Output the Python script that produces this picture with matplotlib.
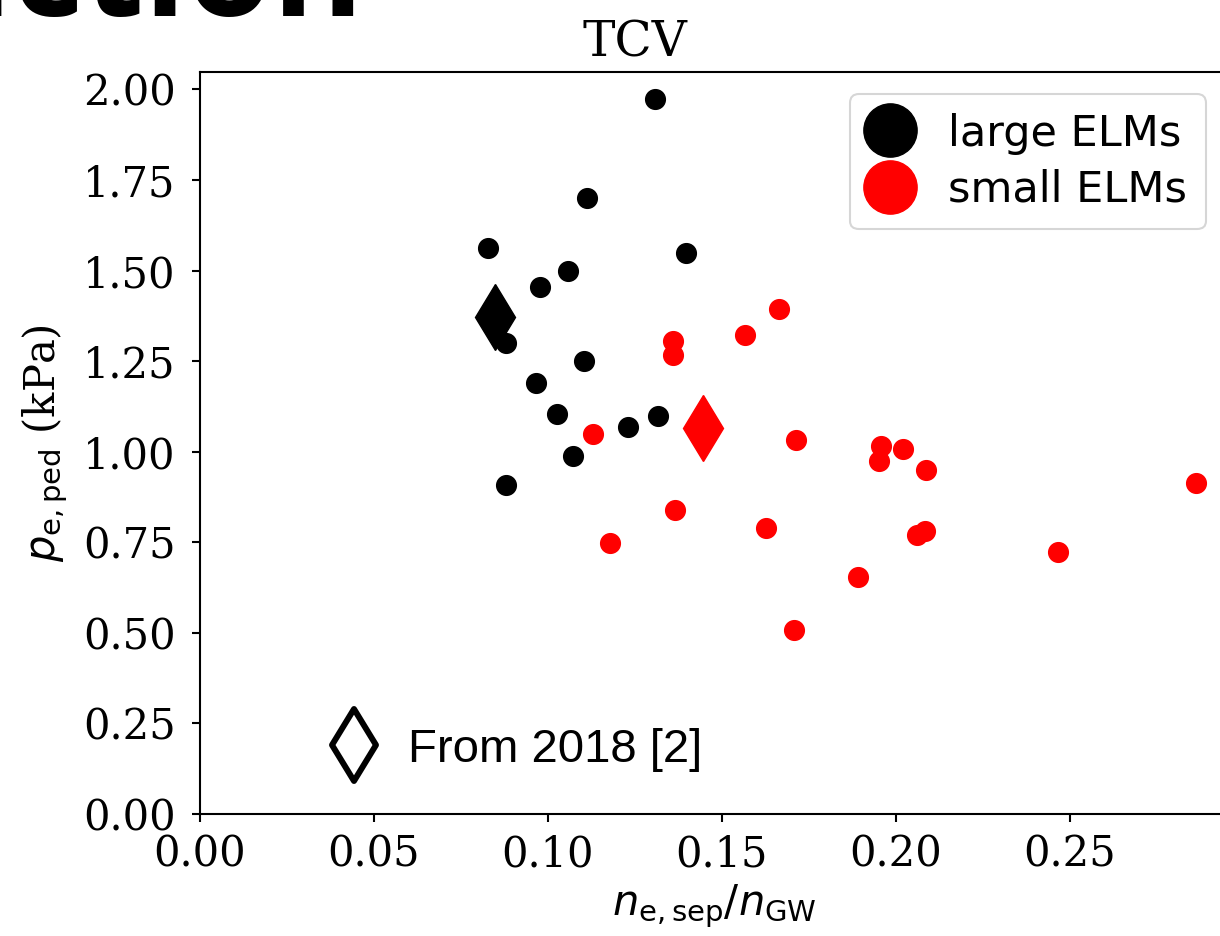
import matplotlib
matplotlib.use("Agg")
import matplotlib.pyplot as plt
from matplotlib.lines import Line2D
from matplotlib.markers import MarkerStyle

# ---- data ----
large_x = [0.1307, 0.1111, 0.0828, 0.1397, 0.1057, 0.0977, 0.0878, 0.1104,
           0.0966, 0.1027, 0.1231, 0.1315, 0.1071, 0.0878]
large_y = [1.973, 1.699, 1.563, 1.548, 1.500, 1.455, 1.299, 1.251,
           1.189, 1.103, 1.069, 1.099, 0.988, 0.908]
small_x = [0.1128, 0.1178, 0.1360, 0.1360, 0.1365, 0.1567, 0.1664, 0.1713,
           0.1626, 0.1707, 0.1891, 0.1958, 0.1952, 0.2019, 0.2087, 0.2061,
           0.2083, 0.2466, 0.2862]
small_y = [1.048, 0.748, 1.306, 1.266, 0.839, 1.321, 1.394, 1.032,
           0.789, 0.508, 0.653, 1.017, 0.975, 1.007, 0.949, 0.770,
           0.781, 0.724, 0.913]
ref2018_x = [0.0848, 0.1446]
ref2018_y = [1.373, 1.065]
ref2018_colors = ["black", "red"]

xticks = [0.00, 0.05, 0.10, 0.15, 0.20, 0.25]
yticks = [0.00, 0.25, 0.50, 0.75, 1.00, 1.25, 1.50, 1.75, 2.00]

plt.rcParams["font.family"] = "DejaVu Serif"
plt.rcParams["mathtext.fontset"] = "dejavusans"

W, H = 1220, 936
fig = plt.figure(figsize=(W / 100, H / 100), dpi=100)

# slide title fragment (cut off at the top and left)
fig.text(364 / W, 1 - 15 / H, "Introduction", fontsize=100, fontweight="bold",
         family="Open Sans", va="baseline", ha="right")

ax_l, ax_r, ax_t, ax_b = 200, 1228, 72, 814
ax = fig.add_axes([ax_l / W, 1 - ax_b / H, (ax_r - ax_l) / W, (ax_b - ax_t) / H])

ax.plot(large_x, large_y, "o", color="black", markersize=14.2, ls="none",
        label="large ELMs", zorder=2)
ax.plot(small_x, small_y, "o", color="red", markersize=14.2, ls="none",
        label="small ELMs", zorder=2)
for x, y, c in zip(ref2018_x, ref2018_y, ref2018_colors):
    ax.plot([x], [y], marker="d", color=c, markersize=34, ls="none", zorder=3)

ax.set_xlim(0, (ax_r - ax_l) / 3480)
ax.set_ylim(0, 2.048)
ax.set_xticks(xticks)
ax.set_yticks(yticks)
ax.set_xticklabels([f"{v:.2f}" for v in xticks])
ax.set_yticklabels([f"{v:.2f}" for v in yticks])
ax.tick_params(labelsize=30, length=6, width=1.5)
ax.tick_params(axis="x", pad=8)
ax.tick_params(axis="y", pad=11.5)
for s in ax.spines.values():
    s.set_linewidth(1.5)

ax.set_xlabel(r"$n_\mathrm{e,sep}/n_\mathrm{GW}$", fontsize=30)
ax.set_ylabel(r"$p_\mathrm{e,ped}$ (kPa)", fontsize=30)
ax.yaxis.set_label_coords(-(200 - 70) / (ax_r - ax_l), 0.5)
ax.xaxis.set_label_coords(0.5, -(882 - 814) / (ax_b - ax_t))
ax.set_title("TCV", fontsize=35, x=(635 - 200) / (ax_r - ax_l), pad=11)

leg = ax.legend(loc="upper right", bbox_to_anchor=(1206 / W, 1 - 94 / H),
                bbox_transform=fig.transFigure, borderaxespad=0,
                prop={"family": "DejaVu Sans", "size": 31}, markerscale=2.7,
                handlelength=1.0, handletextpad=0.85, labelspacing=0.33,
                borderpad=0.43, edgecolor="#cccccc", fancybox=True)
leg.get_frame().set_linewidth(1.5)
ax.add_artist(leg)

ref_handle = Line2D([], [], marker=MarkerStyle("d", joinstyle="round"),
                    ls="none", markerfacecolor="white",
                    markeredgecolor="black", markeredgewidth=4.3,
                    markersize=37)
leg2 = ax.legend([ref_handle], ["From 2018 [2]"], loc="center left",
                 bbox_to_anchor=(335 / W, 1 - 750 / H),
                 bbox_transform=fig.transFigure, frameon=False,
                 prop={"family": "Liberation Sans", "size": 34},
                 handlelength=0.8, handletextpad=0.74, borderpad=0,
                 borderaxespad=0)

fig.savefig("out.png", dpi=100)
